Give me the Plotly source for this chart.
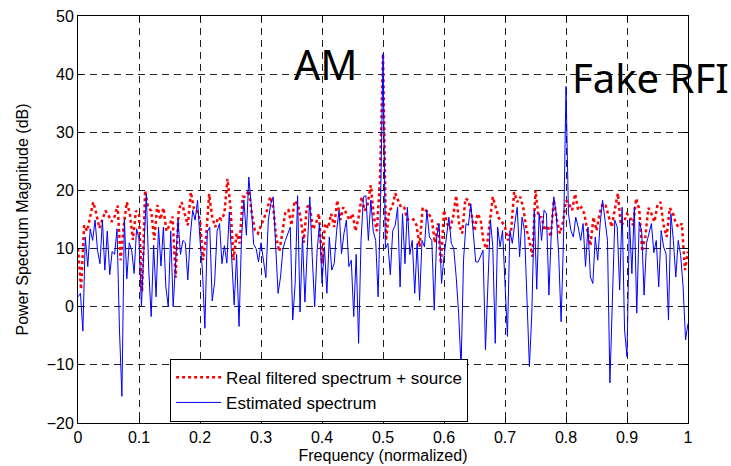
import numpy as np
import plotly.graph_objects as go

# Blue: estimated spectrum, sampled every 0.004 (251 points)
est_db = [
    1.7, 2.3, -4.2, 12, 6.9, 13.4, 11.4, 14.9, 9.7, 7.4, 14.9, 6.3, 13, 5.5, 9.5, 9, 13.4, -4, -15.4, 15, 4.8, 11, 9.7, 5.7, 13.4,
    11.7, 0, 10, 19.4, 6.3, -1.7, 10.6, 1.7, 13.7, 7, 13.7, 3.4, 0, 13, 0, 8, 15, 9, 11.4, 11, 4.6, 12, 16.6, 14.9, 18.3,
    11.5, 6.3, -3.7, 12.9, 13.7, 1, 4.2, 13, 14.3, 7.4, 10.5, 7.5, 16.3, 8.6, 0.3, 9, -3.4, 11.7, 18.3, 12.3, 22.3, 17.4, 10.7, 10, 7.7,
    11, 8, 5, 14.9, 17.7, 18.9, 10.3, 2.3, 5.1, 10, 11.4, 12.5, 13.7, -2.3, 4, 19.1, -0.9, 12, 0.8, 10.3, 18.9, 8.6, 0, 9.7, 14.3,
    4, 10.3, 2.3, 12, 6.3, 7.4, 13.1, 16.6, 9.1, 12.6, 14.9, 6.9, 8, -1.7, 9, -6.3, 11.4, 18.9, 19.1, 11.4, 18.3, 13, 11.4, 1.7, 18,
    43.5, 10, 10.9, 5.5, 13.1, 14, 17.1, 3.4, 16, 7.4, 17.1, 9, 11.4, 2.3, 10.9, 1.1, 11.4, 10.3, 16.6, 12, 11.4, -0.6, 12, 14.3, 4,
    8.6, 12, 15.4, 10.9, 10, 5.1, -1.1, -10.5, 8, 14.3, 14, 17.7, 12, 7.7, 7.7, 8.6, 9.7, -7.4, 4, 15, 10.3, -6.3, 13.7, 10.3, 13.1,
    5.1, -5.1, 13.1, 10.9, 14.3, 17.1, 8.6, 15.4, 13.1, 1.7, -10.3, -1.1, 16.6, 3, 16, 11.4, 16.6, 16, 2, 13.1, 18.9, 16, 9, -2.6, 12,
    37.9, 16, 13.1, 12, 15.4, 13.7, 11.4, 14.3, 6.9, 13.7, 5.1, 4, 12, 8, 14.3, 18.3, 14.9, 11.4, -13.1, 1.7, 14.9, 13.7, 2.9, 17.1, -4,
    -8.6, 15.1, 5.7, 17.1, -1.1, 14.6, 13.1, 2, 10.9, 12.5, 14.3, 9.3, 11.4, 3.4, 13.1, 10.3, 9.1, -2.3, 16, 11.4, 5.1, 11.4, 8.8, 3.4, -5.7,
    -2.9,
]

# Red: real filtered spectrum + source, sampled every 0.005 (201 points)
real_db = [
    10, 3, 14, 13, 15.5, 18, 16, 13.5, 15, 16.5, 15.7, 14.6, 15.5, 17.4, 8, 14, 18, 16, 11.5, 16.5,
    16, 2.6, 20, 17, 16.5, 11.5, 17.5, 15, 17, 13, 14, 15.5, 5, 16.5, 18, 16, 14, 19.7, 16.9, 16.6,
    14.9, 8, 12, 19.4, 15.4, 13.7, 15.4, 15, 16, 22, 17.1, 8, 12.6, 10.9, 18.9, 18.9, 20, 16, 13.1, 12.6,
    14, 15.5, 16.6, 18.9, 17.1, 12, 9.5, 12.7, 16.3, 16.6, 14, 18.2, 17.7, 15.4, 11, 17.1, 17.5, 13.3, 14.3, 16,
    7.4, 14.3, 13.5, 16, 13.7, 18.3, 14.9, 17.1, 16, 14.9, 16, 13, 15.4, 18.9, 16.5, 17.7, 20.9, 15.4, 13, 22,
    43.5, 11.4, 16.6, 17, 19.5, 18.3, 17, 17, 15, 15.2, 15, 14, 10.3, 17, 16.6, 16, 15, 11, 14.3, 7.4,
    16.6, 14.3, 13.4, 15.5, 19.1, 14, 12.6, 18.6, 18.3, 16, 13, 16, 15, 11, 10, 14.5, 18.9, 17, 15.2, 14.6,
    13.7, 11.4, 13.1, 19.7, 18, 18.9, 17, 13.4, 11.4, 8.6, 20, 15.4, 15.4, 13.1, 14, 12, 18.3, 15, 12.6, 14.5,
    18.3, 17.7, 16.6, 19.4, 16.6, 17.1, 16, 13.1, 10.5, 15.4, 13.1, 16, 17.7, 17.4, 15.7, 13.7, 16.7, 19.5, 14, 14.5,
    16, 15.4, 14, 18.6, 16.8, 9.5, 12, 17, 16, 14.6, 17.5, 18, 14, 12, 17, 16.2, 14.3, 13.7, 14.3, 6.3, 9.5,
]

freq_est = np.linspace(0, 1, len(est_db))
freq_real = np.linspace(0, 1, len(real_db))

x_ticks = [0, 0.1, 0.2, 0.3, 0.4, 0.5, 0.6, 0.7, 0.8, 0.9, 1]
y_ticks = [-20, -10, 0, 10, 20, 30, 40, 50]

FONT = "Liberation Sans, Arial, sans-serif"

fig = go.Figure()
fig.add_trace(go.Scatter(
    x=freq_real, y=real_db, mode="lines",
    name="Real filtered spectrum + source",
    line=dict(color="#ff0000", width=2.5, dash="dot"),
))
fig.add_trace(go.Scatter(
    x=freq_est, y=est_db, mode="lines",
    name="Estimated spectrum",
    line=dict(color="#0000ff", width=1),
))

axis_common = dict(
    showline=True, linecolor="black", linewidth=1, mirror="ticks",
    ticks="inside", ticklen=5, tickcolor="black",
    showgrid=True, gridcolor="#222", gridwidth=1, griddash="7px,5px",
    zeroline=False, tickfont=dict(family=FONT, size=16, color="black"),
    automargin=False,
)

fig.update_xaxes(range=[0, 1], tickvals=x_ticks, ticktext=[str(v) for v in x_ticks],
                 title=dict(text="Frequency (normalized)", font=dict(family=FONT, size=16, color="black"), standoff=4),
                 **axis_common)
fig.update_yaxes(range=[-20, 50], tickvals=y_ticks,
                 title=dict(text="Power Spectrum Magnitude (dB)", font=dict(family=FONT, size=16, color="black"), standoff=14),
                 **axis_common)

fig.add_annotation(x=0.406, y=41.7, xref="x", yref="y", text="AM", showarrow=False,
                   font=dict(family="Noto Sans, Open Sans, sans-serif", size=41, color="black"),
                   xanchor="center", yanchor="middle")
fig.add_annotation(x=0.806, y=39.4, xref="x", yref="y", text="Fake RFI", showarrow=False,
                   font=dict(family="Noto Sans, Open Sans, sans-serif", size=40, color="black"),
                   xanchor="left", yanchor="middle")

fig.update_layout(
    width=731, height=466,
    margin=dict(l=78, r=43, t=16, b=43),
    plot_bgcolor="white", paper_bgcolor="white",
    font=dict(family=FONT, size=16, color="black"),
    showlegend=True,
    legend=dict(x=0.151, y=0.003, xanchor="left", yanchor="bottom",
                bgcolor="white", bordercolor="black", borderwidth=1,
                font=dict(family=FONT, size=17, color="black"),
                tracegroupgap=0, itemwidth=45),
)

fig.write_html("out.html")
